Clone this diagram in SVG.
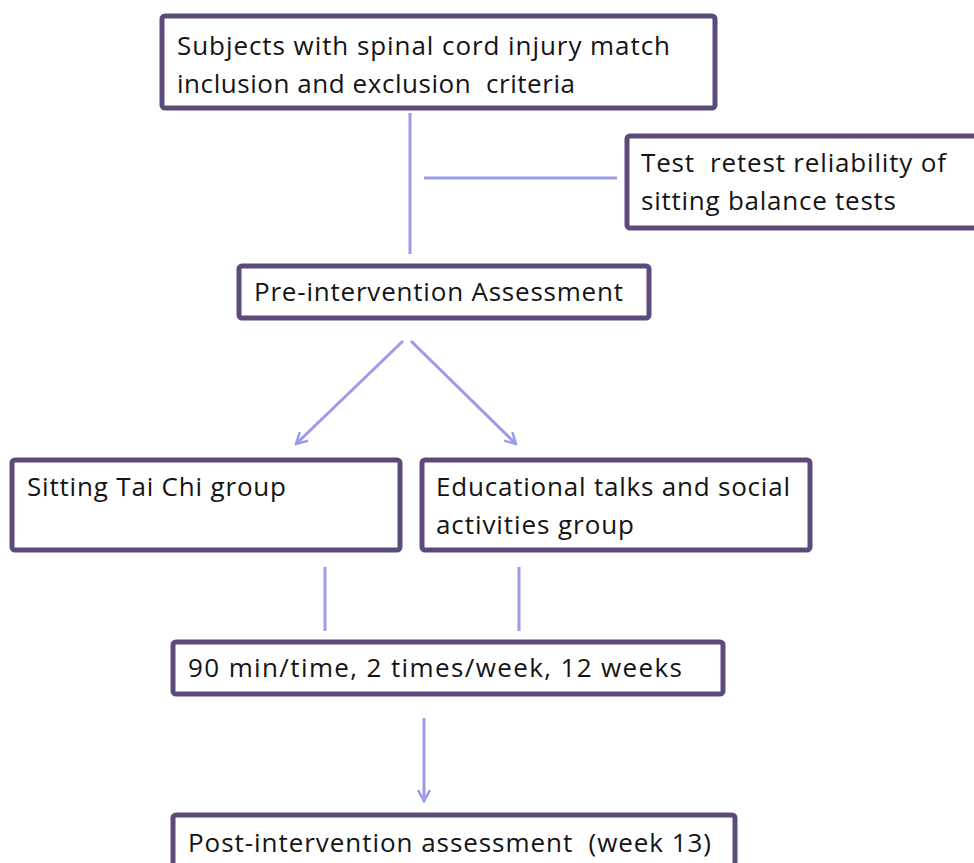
<svg xmlns="http://www.w3.org/2000/svg" width="974" height="863" viewBox="0 0 974 863">
<defs>
<style>
.box{fill:#fff;stroke:#5c4a7b;stroke-width:5}
.t{font-family:"Open Sans","Liberation Sans",Arial,sans-serif;font-size:26px;fill:#141414;white-space:pre}
.c{stroke:#9b9be9;stroke-width:3;fill:none}
</style>
<marker id="ah" viewBox="0 0 14 14" refX="12" refY="7" markerWidth="14" markerHeight="14" markerUnits="userSpaceOnUse" orient="auto">
<path d="M1,1 L12,7 L1,13" fill="none" stroke="#9b9be9" stroke-width="2.5"/>
</marker>
</defs>
<rect width="974" height="863" fill="#fff"/>
<g id="connectors">
<line class="c" x1="410" y1="113" x2="410" y2="254"/>
<line class="c" x1="424" y1="178" x2="617" y2="178"/>
<line class="c" x1="403" y1="341" x2="296" y2="444" marker-end="url(#ah)"/>
<line class="c" x1="411" y1="341" x2="516" y2="444" marker-end="url(#ah)"/>
<line class="c" x1="325" y1="567" x2="325" y2="631"/>
<line class="c" x1="519" y1="567" x2="519" y2="631"/>
<line class="c" x1="424" y1="718" x2="424" y2="801" marker-end="url(#ah)"/>
</g>
<g id="n1">
<rect class="box" x="162" y="16" width="553" height="92" rx="3"/>
<text class="t" x="177" y="55" textLength="493">Subjects with spinal cord injury match</text>
<text class="t" x="177" y="93" textLength="398">inclusion and exclusion  criteria</text>
</g>
<g id="n2">
<rect class="box" x="627" y="136" width="360" height="92" rx="3"/>
<text class="t" x="641" y="172" textLength="305">Test  retest reliability of</text>
<text class="t" x="641" y="210" textLength="255">sitting balance tests</text>
</g>
<g id="n3">
<rect class="box" x="239" y="266" width="410" height="52" rx="3"/>
<text class="t" x="254" y="301" textLength="369">Pre-intervention Assessment</text>
</g>
<g id="n4">
<rect class="box" x="12" y="460" width="388" height="90" rx="3"/>
<text class="t" x="27" y="496" textLength="259">Sitting Tai Chi group</text>
</g>
<g id="n5">
<rect class="box" x="422" y="460" width="388" height="90" rx="3"/>
<text class="t" x="436" y="496" textLength="354">Educational talks and social</text>
<text class="t" x="436" y="534" textLength="198">activities group</text>
</g>
<g id="n6">
<rect class="box" x="173" y="642" width="550" height="52" rx="3"/>
<text class="t" x="188" y="677" textLength="494">90 min/time, 2 times/week, 12 weeks</text>
</g>
<g id="n7">
<rect class="box" x="173" y="815" width="562" height="70" rx="3"/>
<text class="t" x="188" y="852" textLength="523">Post-intervention assessment  (week 13)</text>
</g>
</svg>
